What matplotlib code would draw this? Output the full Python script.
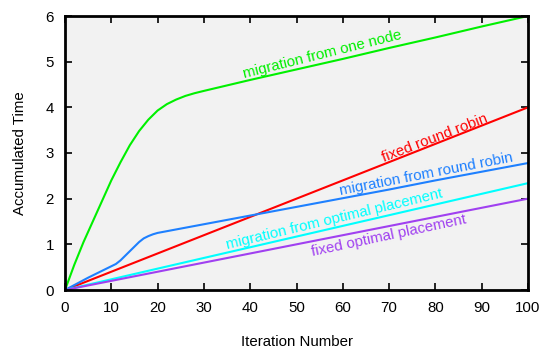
import matplotlib
matplotlib.use("Agg")
import matplotlib.pyplot as plt

# values
one_node_x = [0, 2, 4, 6, 8, 10, 12, 14, 16, 18, 20, 22, 24, 26, 28, 30, 40, 50, 60, 70, 80, 90, 100]
one_node_y = [0, 0.55, 1.05, 1.5, 1.95, 2.4, 2.8, 3.17, 3.48, 3.73, 3.93, 4.07, 4.17, 4.25, 4.31, 4.36,
              4.6, 4.83, 5.06, 5.3, 5.53, 5.77, 6.0]

rr_mig_x = [0, 5, 10, 11, 12, 13, 14, 15, 16, 17, 18, 19, 20, 30, 40, 50, 60, 70, 80, 90, 100]
rr_mig_y = [0, 0.27, 0.52, 0.57, 0.65, 0.75, 0.85, 0.95, 1.05, 1.13, 1.18, 1.22, 1.25,
            1.44, 1.63, 1.82, 2.01, 2.2, 2.4, 2.59, 2.78]

lin_x = [0, 100]
fixed_rr_y = [0, 4.0]
opt_mig_y = [0, 2.34]
fixed_opt_y = [0, 2.0]

series_names = ["migration from one node", "fixed round robin", "migration from round robin",
                "migration from optimal placement", "fixed optimal placement"]
label_x = [55.5, 79.9, 78.0, 58.1, 70.0]
label_y = [5.15, 3.33, 2.54, 1.55, 1.18]
label_rot = [14, 21, 11, 13.5, 12]

colors = ["#00f000", "#ff0000", "#1e80ff", "#00ffff", "#a040f0"]

plt.rcParams["font.family"] = ["Liberation Sans", "DejaVu Sans"]
plt.rcParams["font.size"] = 10.8

fig = plt.figure(figsize=(5.51, 3.55), dpi=100)
ax = fig.add_axes([65 / 551, 65 / 355, 463 / 551, 274 / 355])
ax.set_facecolor("#f2f2f2")

ax.plot(one_node_x, one_node_y, color=colors[0], lw=1.5)
ax.plot(lin_x, fixed_rr_y, color=colors[1], lw=1.5)
ax.plot(rr_mig_x, rr_mig_y, color=colors[2], lw=1.5)
ax.plot(lin_x, opt_mig_y, color=colors[3], lw=1.5)
ax.plot(lin_x, fixed_opt_y, color=colors[4], lw=1.5)

for name, x, y, r, c in zip(series_names, label_x, label_y, label_rot, colors):
    ax.text(x, y, name, color=c, rotation=r, ha="center", va="center",
            rotation_mode="anchor", fontsize=10.8)

ax.set_xlim(0, 100)
ax.set_ylim(0, 6)
ax.set_xticks(range(0, 101, 10))
ax.set_yticks(range(0, 7))
ax.tick_params(direction="in", length=5, width=1.2, top=True, right=True, pad=8)
for s in ax.spines.values():
    s.set_linewidth(2)

ax.set_xlabel("Iteration Number", labelpad=14)
ax.set_ylabel("Accumulated Time", labelpad=13)

fig.savefig("out.png", dpi=100)
